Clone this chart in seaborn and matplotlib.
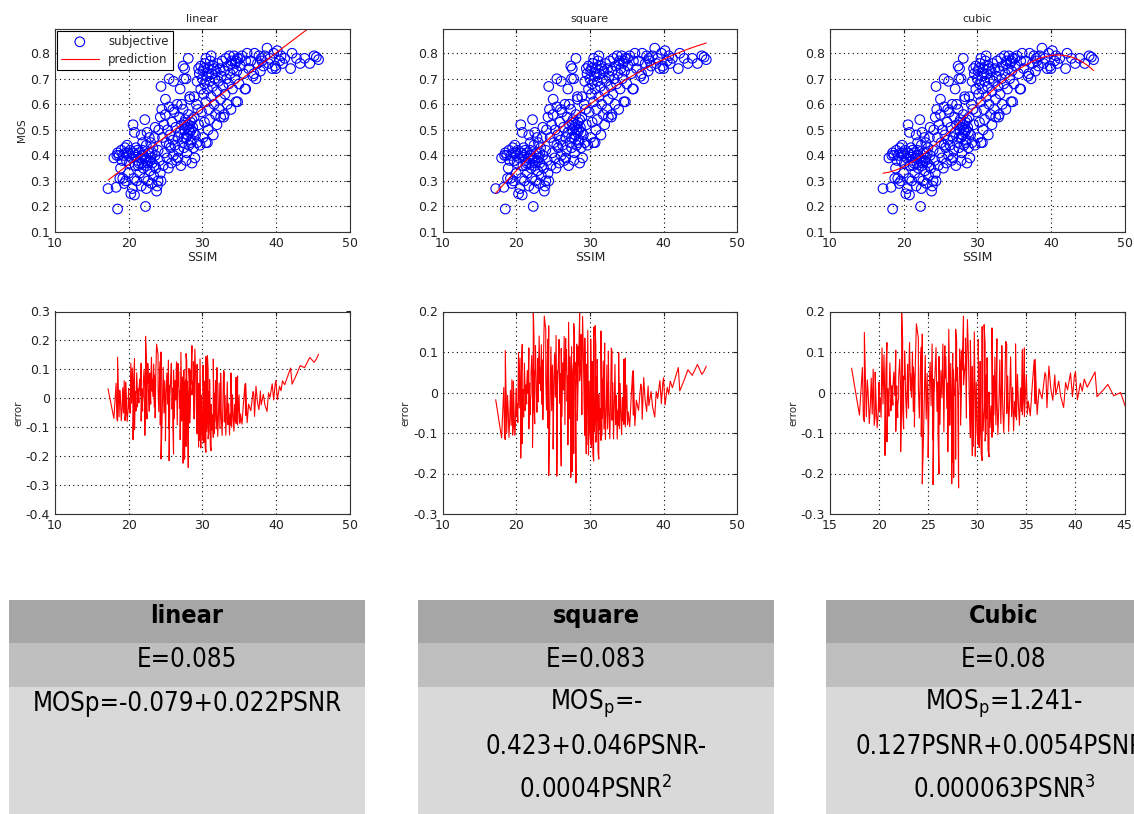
import numpy as np
import pandas as pd
import matplotlib
matplotlib.use("Agg")
import matplotlib.pyplot as plt
from matplotlib.patches import Rectangle
import seaborn as sns

# ---------------- data ----------------
band_low = [(17.2,0.27),(18.0,0.39),(18.3,0.275),(18.5,0.19),(18.5,0.41),(18.7,0.40),(18.9,0.35),
            (19.0,0.42),(19.2,0.31),(19.3,0.40),(19.5,0.43),(19.6,0.30),(19.7,0.38),(19.8,0.44),
            (19.9,0.41),(20.0,0.40),(20.0,0.33),(20.1,0.37),(18.8,0.31),(19.4,0.29),(20.3,0.25),
            (20.5,0.27),(20.8,0.245),(20.2,0.42),(20.4,0.39),(19.1,0.38),(19.6,0.41),(20.6,0.41),
            (18.4,0.40),(20.9,0.36)]
band_b = [(20.6,0.52),(20.8,0.49),(21.0,0.43),(21.0,0.40),(21.2,0.38),(21.3,0.36),(21.4,0.41),
          (21.5,0.33),(21.6,0.39),(21.7,0.48),(21.8,0.37),(21.9,0.42),(22.0,0.35),(22.0,0.40),
          (22.1,0.31),(22.2,0.54),(22.3,0.20),(22.3,0.38),(22.4,0.44),(22.5,0.36),(22.6,0.30),
          (22.7,0.41),(22.8,0.47),(22.9,0.34),(23.0,0.39),(23.0,0.45),(23.1,0.29),(23.2,0.37),
          (23.3,0.43),(23.4,0.32),(23.5,0.47),(23.6,0.40),(23.7,0.35),(23.8,0.26),(23.9,0.28),
          (24.0,0.30),(24.0,0.42),(24.1,0.50),(24.2,0.38),(24.3,0.33),(21.1,0.30),(21.7,0.28),
          (22.4,0.27),(20.7,0.31),(21.9,0.45),(23.6,0.51),(22.5,0.49),(21.4,0.37),(21.8,0.40),
          (22.2,0.39),(22.6,0.37),(23.2,0.41),(21.2,0.42),(22.9,0.38),(23.5,0.36),(24.4,0.30)]
band_c = [(24.3,0.55),(24.5,0.58),(24.6,0.47),(24.7,0.36),(24.8,0.52),(24.9,0.41),(25.0,0.56),
          (25.1,0.45),(25.2,0.39),(25.3,0.50),(25.4,0.35),(25.5,0.59),(25.6,0.48),(25.7,0.43),
          (25.8,0.37),(25.9,0.53),(26.0,0.46),(26.1,0.40),(26.2,0.57),(26.3,0.44),(26.4,0.51),
          (26.5,0.38),(26.6,0.60),(26.7,0.47),(26.8,0.42),(26.9,0.55),(27.0,0.49),(27.1,0.36),
          (27.2,0.52),(27.3,0.45),(27.4,0.58),(27.5,0.43),(27.6,0.50),(27.7,0.54),(27.8,0.47),
          (27.9,0.41),(28.0,0.52),(28.1,0.56),(28.2,0.44),(28.3,0.49),(28.4,0.53),(28.5,0.46),
          (28.6,0.37),(28.7,0.51),(28.8,0.43),(28.9,0.55),(29.0,0.39),(29.1,0.48),(29.2,0.60),
          (29.3,0.45),(29.5,0.52),(29.7,0.44),(29.9,0.57),(30.1,0.47),(30.3,0.53),(30.5,0.45),
          (30.8,0.50),(27.2,0.60),(28.3,0.63),(25.0,0.62),(26.0,0.58),(27.8,0.38),(28.0,0.48),
          (28.5,0.50),(27.5,0.47),(28.8,0.49),(29.4,0.58),(26.7,0.39),(25.5,0.44),(27.9,0.51),
          (28.2,0.50),(28.6,0.54),(27.6,0.53),(28.4,0.45)]
band_d = [(24.4,0.67),(25.5,0.70),(26.1,0.69),(27.0,0.66),(27.4,0.75),(27.6,0.74),(27.5,0.70),
          (27.8,0.70),(28.1,0.78),(28.3,0.62),(28.9,0.63),(29.5,0.74),(29.8,0.66),(29.3,0.69)]
band_e = [(29.6,0.72),(29.8,0.75),(30.0,0.70),(30.1,0.73),(30.2,0.64),(30.3,0.68),(30.4,0.76),
          (30.5,0.61),(30.6,0.71),(30.7,0.66),(30.8,0.74),(30.9,0.58),(31.0,0.69),(31.1,0.77),
          (31.2,0.63),(31.3,0.72),(31.4,0.67),(31.5,0.75),(31.6,0.60),(31.7,0.70),(31.8,0.56),
          (31.9,0.73),(32.0,0.65),(32.1,0.76),(32.2,0.69),(32.3,0.58),(32.4,0.74),(32.5,0.62),
          (32.6,0.71),(32.7,0.77),(32.8,0.67),(32.9,0.55),(33.0,0.73),(33.1,0.64),(33.2,0.78),
          (33.3,0.70),(33.4,0.60),(33.5,0.75),(33.6,0.68),(33.7,0.79),(33.8,0.72),(33.9,0.58),
          (34.0,0.77),(34.1,0.66),(34.2,0.74),(34.3,0.79),(34.4,0.70),(34.5,0.76),(34.6,0.61),
          (34.7,0.73),(34.8,0.78),(35.0,0.68),(35.2,0.75),(35.4,0.79),(35.6,0.72),(35.8,0.66),
          (35.9,0.77),(31.0,0.54),(32.0,0.52),(31.5,0.48),(30.7,0.45),(32.5,0.55),(33.0,0.56),
          (31.2,0.79),(30.5,0.78),(30.2,0.74),(30.9,0.72),(31.6,0.74),(33.9,0.76),(34.6,0.77),
          (35.1,0.78)]
band_f = [(36.1,0.80),(36.3,0.74),(36.6,0.77),(36.9,0.71),(37.1,0.80),(37.3,0.70),(37.5,0.76),
          (37.7,0.79),(37.9,0.73),(38.1,0.77),(38.3,0.75),(38.5,0.79),(38.8,0.82),(39.0,0.76),
          (39.2,0.78),(39.5,0.74),(39.7,0.80),(39.9,0.75),(40.2,0.81),(40.5,0.77),(40.7,0.79),
          (40.9,0.76),(41.2,0.78),(42.0,0.74),(42.2,0.80),(42.8,0.78),(43.3,0.76),(43.9,0.78),
          (44.6,0.76),(45.2,0.79),(45.5,0.785),(45.8,0.775),(37.0,0.72),(38.0,0.78),(35.9,0.66),
          (34.8,0.61),(40.0,0.74)]

model_names = ["linear", "square", "cubic"]
model_orders = [1, 2, 3]
err_xlims = [(10, 50), (10, 50), (15, 45)]
err_ylims = [(-0.4, 0.3), (-0.3, 0.2), (-0.3, 0.2)]
err_xticks = [[10, 20, 30, 40, 50], [10, 20, 30, 40, 50], [15, 20, 25, 30, 35, 40, 45]]
err_yticks = [[-0.4, -0.3, -0.2, -0.1, 0, 0.1, 0.2, 0.3], [-0.3, -0.2, -0.1, 0, 0.1, 0.2],
              [-0.3, -0.2, -0.1, 0, 0.1, 0.2]]
table_headers = ["linear", "square", "Cubic"]
table_errors = ["E=0.085", "E=0.083", "E=0.08"]
table_formulas = [["MOSp=-0.079+0.022PSNR"],
                  [r"MOS$_\mathregular{p}$=-", "0.423+0.046PSNR-", r"0.0004PSNR$^\mathregular{2}$"],
                  [r"MOS$_\mathregular{p}$=1.241-", "0.127PSNR+0.0054PSNR-", r"0.000063PSNR$^\mathregular{3}$"]]

pts = np.array(band_low + band_b + band_c + band_d + band_e + band_f)
df = pd.DataFrame({"SSIM": pts[:, 0], "MOS": pts[:, 1]}).sort_values("SSIM").reset_index(drop=True)

# ---------------- figure ----------------
sns.set_style("white")
plt.rcParams["font.family"] = ["DejaVu Sans"]
fig = plt.figure(figsize=(11.34, 8.14), dpi=100)
W, H = 1134, 814

def add_axes_px(l, t, r, b):
    return fig.add_axes([l / W, 1 - b / H, (r - l) / W, (b - t) / H])

lefts = [55, 442.7, 830]
width = 294.5

def style(ax):
    ax.grid(True, linestyle=(0, (1, 3)), color="black", linewidth=0.8)
    ax.tick_params(direction="in", length=3, labelsize=9, top=True, right=True, colors="#222222")
    for s in ax.spines.values():
        s.set_color("#333333")
        s.set_linewidth(0.8)
        s.set_visible(True)

for i, (name, order) in enumerate(zip(model_names, model_orders)):
    coef = np.polyfit(df["SSIM"], df["MOS"], order)
    pred = np.polyval(coef, df["SSIM"])
    fit_df = pd.DataFrame({"SSIM": df["SSIM"], "pred": pred, "error": pred - df["MOS"]})

    ax = add_axes_px(lefts[i], 29, lefts[i] + width, 232)
    sns.scatterplot(data=df, x="SSIM", y="MOS", ax=ax, marker="o", s=48,
                    facecolor="none", edgecolor="#0000ff", linewidth=0.8,
                    label="subjective" if i == 0 else None, legend=False)
    sns.lineplot(data=fit_df, x="SSIM", y="pred", ax=ax, color="red", linewidth=0.8,
                 estimator=None, label="prediction" if i == 0 else None, legend=False)
    ax.set_xlim(10, 50)
    ax.set_ylim(0.1, 0.895)
    ax.set_xticks([10, 20, 30, 40, 50])
    ax.set_yticks([0.1, 0.2, 0.3, 0.4, 0.5, 0.6, 0.7, 0.8])
    ax.set_title(name, fontsize=8, pad=5)
    ax.set_xlabel("SSIM", fontsize=9, labelpad=1)
    ax.set_ylabel("MOS" if i == 0 else "", fontsize=7.5, labelpad=2)
    style(ax)
    if i == 0:
        h, l = ax.get_legend_handles_labels()
        leg = ax.legend(h, l, loc="upper left", fontsize=8.5, frameon=True, fancybox=False,
                        edgecolor="black", framealpha=1, borderaxespad=0.15,
                        handlelength=3.2, borderpad=0.35, labelspacing=0.45, handletextpad=0.8)
        leg.get_frame().set_linewidth(0.8)

    ax2 = add_axes_px(lefts[i], 311.5, lefts[i] + width, 514)
    sns.lineplot(data=fit_df, x="SSIM", y="error", ax=ax2, color="red", linewidth=0.8,
                 estimator=None, sort=False)
    ax2.set_xlim(*err_xlims[i])
    ax2.set_ylim(*err_ylims[i])
    ax2.set_xticks(err_xticks[i])
    ax2.set_yticks(err_yticks[i])
    ax2.set_yticklabels([f"{v:g}" for v in err_yticks[i]])
    ax2.set_xlabel("")
    ax2.set_ylabel("error", fontsize=7.5, labelpad=2)
    style(ax2)

# ---------------- table ----------------
box_lefts = [9, 418, 826]
box_w = 356
rows = [(600, 643, "#a6a6a6"), (643, 687, "#bfbfbf"), (687, 814, "#d9d9d9")]
for k in range(3):
    for (t, b, c) in rows:
        fig.patches.append(Rectangle((box_lefts[k] / W, 1 - b / H), box_w / W, (b - t) / H,
                                     transform=fig.transFigure, facecolor=c, edgecolor="none",
                                     zorder=0))
    cx = (box_lefts[k] + box_w / 2) / W
    fig.text(cx, 1 - 616 / H, table_headers[k], ha="center", va="center", fontsize=18,
             fontweight="bold", color="black", fontstretch="condensed")
    fig.text(cx, 1 - 660 / H, table_errors[k], ha="center", va="center", fontsize=18.5,
             color="black", fontstretch="condensed")
    for j, line in enumerate(table_formulas[k]):
        fig.text(cx, 1 - (704 + 43 * j) / H, line, ha="center", va="center", fontsize=18.5,
                 color="black", fontstretch="condensed")

fig.savefig("out.png", dpi=100, facecolor="white")
